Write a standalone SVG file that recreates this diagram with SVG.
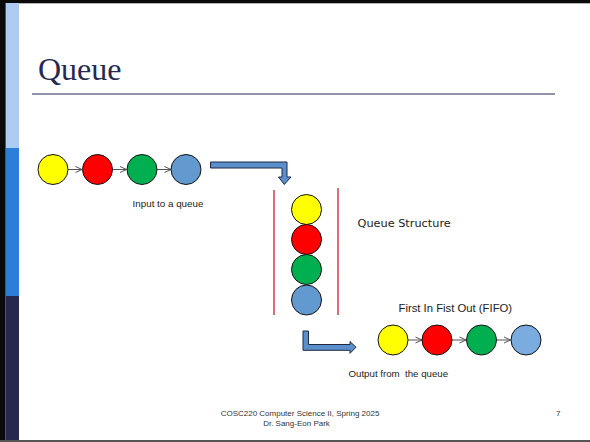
<svg xmlns="http://www.w3.org/2000/svg" width="590" height="442" viewBox="0 0 590 442">
  <style>
    .lbl { font-family: "Liberation Sans", Arial, sans-serif; fill: #222; }
    .foot { font-family: "Liberation Sans", Arial, sans-serif; font-size: 8px; fill: #333; }
    .node { stroke: #111; stroke-width: 1; }
    .link { stroke: #555; stroke-width: 1; fill: none; marker-end: url(#chev); }
    .big { fill: #5b8fcc; stroke: #1e2a40; stroke-width: 1; stroke-linejoin: miter; }
    .wall { stroke: #d02020; stroke-width: 1.3; }
  </style>
  <defs>
    <marker id="chev" viewBox="0 0 8 8" refX="7.5" refY="4" markerWidth="8" markerHeight="8" markerUnits="userSpaceOnUse" orient="auto">
      <path d="M1,1 L7.5,4 L1,7" fill="none" stroke="#555" stroke-width="1"/>
    </marker>
  </defs>

  <!-- slide frame -->
  <rect x="0" y="0" width="590" height="442" fill="#ffffff"/>
  <rect x="0" y="0" width="590" height="3.3" fill="#0a0a0a"/>
  <rect x="0" y="0" width="5" height="442" fill="#0a0a0a"/>
  <rect x="5" y="3" width="1" height="439" fill="#555"/>
  <rect x="6" y="3" width="13" height="145" fill="#aecbf2"/>
  <rect x="6" y="148" width="13" height="148" fill="#2c7fd6"/>
  <rect x="6" y="296" width="13" height="146" fill="#262850"/>
  <rect x="0" y="440" width="590" height="2" fill="#555"/>

  <!-- title -->
  <text x="38" y="80" font-family="'Liberation Serif', 'Times New Roman', serif" font-size="32" fill="#262a52">Queue</text>
  <line x1="32" y1="94" x2="555" y2="94" stroke="#6a6f8f" stroke-width="1.5"/>

  <!-- connectors -->
  <g id="connectors">
    <line class="link" x1="68" y1="169.5" x2="82" y2="169.5"/>
    <line class="link" x1="112.5" y1="169.5" x2="126.5" y2="169.5"/>
    <line class="link" x1="157" y1="169.5" x2="171" y2="169.5"/>
    <line class="link" x1="408" y1="340" x2="422" y2="340"/>
    <line class="link" x1="452" y1="340" x2="466" y2="340"/>
    <line class="link" x1="496.5" y1="340" x2="510.5" y2="340"/>
    <path class="big" d="M210.5,162 L287,162 L287,177 L291,177 L284.3,184.5 L278.5,177 L282,177 L282,168 L210.5,168 Z"/>
    <path class="big" d="M303,331 L308.5,331 L308.5,344.5 L350,344.5 L350,341.5 L356,347.3 L350,353.3 L350,350.3 L303,350.3 Z"/>
  </g>

  <!-- input row -->
  <g id="in-yellow"><circle class="node" cx="53" cy="169.5" r="15" fill="#ffff00"/></g>
  <g id="in-red"><circle class="node" cx="97.5" cy="169.5" r="15" fill="#ff0000"/></g>
  <g id="in-green"><circle class="node" cx="142" cy="169.5" r="15" fill="#00b050"/></g>
  <g id="in-blue"><circle class="node" cx="186" cy="169.5" r="15" fill="#6299cf"/></g>
  <text class="lbl" x="168" y="207" font-size="9.8" text-anchor="middle">Input to a queue</text>

  <!-- queue structure -->
  <g id="queue">
    <line class="wall" x1="274" y1="190" x2="274" y2="315"/>
    <line class="wall" x1="338" y1="188" x2="338" y2="315"/>
    <circle class="node" cx="306.5" cy="209.5" r="15" fill="#ffff00"/>
    <circle class="node" cx="306.5" cy="239.5" r="15" fill="#ff0000"/>
    <circle class="node" cx="306.5" cy="269.5" r="15" fill="#00b050"/>
    <circle class="node" cx="306.5" cy="300" r="15" fill="#6299cf"/>
  </g>
  <text x="357.5" y="227" font-family="'DejaVu Sans', Verdana, sans-serif" font-size="11.3" fill="#222">Queue Structure</text>

  <!-- output row -->
  <text class="lbl" x="398.5" y="312" font-size="11.3">First In Fist Out (FIFO)</text>
  <g id="out-yellow"><circle class="node" cx="393" cy="340" r="15" fill="#ffff00"/></g>
  <g id="out-red"><circle class="node" cx="437" cy="340" r="15" fill="#ff0000"/></g>
  <g id="out-green"><circle class="node" cx="481.5" cy="340" r="15" fill="#00b050"/></g>
  <g id="out-blue"><circle class="node" cx="526" cy="340" r="15" fill="#7aacdf"/></g>
  <text class="lbl" x="348.5" y="377" font-size="9.7" xml:space="preserve">Output from  the queue</text>

  <!-- footer -->
  <text class="foot" x="300" y="415.5" text-anchor="middle">COSC220 Computer Science II, Spring 2025</text>
  <text class="foot" x="296.5" y="426" text-anchor="middle">Dr. Sang-Eon Park</text>
  <text class="foot" x="556" y="415.5">7</text>
</svg>
